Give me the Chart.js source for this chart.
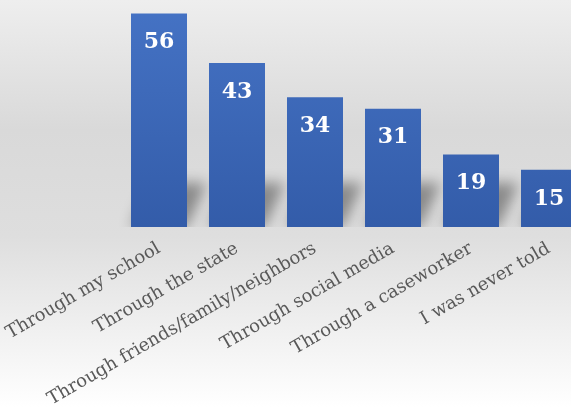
<!DOCTYPE html>
<html>
<head>
<meta charset="utf-8">
<script src="https://cdn.jsdelivr.net/npm/chart.js@4.4.1/dist/chart.umd.min.js"></script>
<style>
    html, body { margin: 0; padding: 0; width: 571px; height: 407px; overflow: hidden; background: #fff; }
    #wrap { width: 600px; height: 407px; position: relative; }
</style>
</head>
<body>
<div id="wrap"><canvas id="chart" width="600" height="407"></canvas></div>
<script>
const categories = [
    'Through my school',
    'Through the state',
    'Through friends/family/neighbors',
    'Through social media',
    'Through a caseworker',
    'I was never told'
];
const counts = [56, 43, 34, 31, 19, 15];

// grey page gradient behind everything
const backdrop = {
    id: 'backdrop',
    beforeDraw(chart) {
        const ctx = chart.ctx;
        const h = chart.height;
        const g = ctx.createLinearGradient(0, 0, 0, h);
        g.addColorStop(0, '#eeeeee');
        g.addColorStop(0.32, '#d9d9d9');
        g.addColorStop(0.58, '#dedede');
        g.addColorStop(1, '#ffffff');
        ctx.save();
        ctx.fillStyle = g;
        ctx.fillRect(0, 0, chart.width, h);
        ctx.restore();
    }
};

// soft shadow cast behind each bar
const barShadow = {
    id: 'barShadow',
    beforeDatasetsDraw(chart) {
        const ctx = chart.ctx;
        const meta = chart.getDatasetMeta(0);
        ctx.save();
        ctx.beginPath();
        ctx.rect(0, 0, chart.width, chart.chartArea.bottom);
        ctx.clip();
        ctx.filter = 'blur(7px)';
        ctx.fillStyle = 'rgba(0, 0, 0, 0.38)';
        meta.data.forEach(bar => {
            const left = bar.x - bar.width / 2;
            const right = bar.x + bar.width / 2;
            const base = bar.base;
            ctx.beginPath();
            ctx.moveTo(left, base);
            ctx.lineTo(right, base);
            ctx.lineTo(right + 20, base - 44);
            ctx.lineTo(left + 20, base - 44);
            ctx.closePath();
            ctx.fill();
        });
        ctx.restore();
    }
};

// white values inside the bars
const valueLabels = {
    id: 'valueLabels',
    afterDatasetsDraw(chart) {
        const ctx = chart.ctx;
        const meta = chart.getDatasetMeta(0);
        ctx.save();
        ctx.fillStyle = '#ffffff';
        ctx.font = 'bold 22px "DejaVu Serif"';
        ctx.textAlign = 'center';
        ctx.textBaseline = 'middle';
        meta.data.forEach((bar, i) => {
            ctx.fillText(counts[i], bar.x, bar.y + 29);
        });
        ctx.restore();
    }
};

const ctx = document.getElementById('chart').getContext('2d');
new Chart(ctx, {
    type: 'bar',
    data: {
        labels: categories,
        datasets: [{
            data: counts,
            backgroundColor: (c) => {
                const area = c.chart.chartArea;
                if (!area) return '#4472c4';
                const g = c.chart.ctx.createLinearGradient(0, area.top, 0, area.bottom);
                g.addColorStop(0, '#4573c5');
                g.addColorStop(1, '#335ca9');
                return g;
            },
            borderWidth: 0,
            categoryPercentage: 1,
            barPercentage: 0.718
        }]
    },
    options: {
        responsive: false,
        animation: false,
        devicePixelRatio: 1,
        layout: { padding: { left: 120, right: 12, top: 2, bottom: 0 } },
        plugins: {
            legend: { display: false },
            tooltip: { enabled: false }
        },
        scales: {
            y: {
                display: false,
                min: 0,
                max: 59
            },
            x: {
                grid: { display: false },
                border: { display: false },
                ticks: {
                    color: '#595959',
                    font: { family: '"DejaVu Serif"', size: 18 },
                    minRotation: 30,
                    maxRotation: 30,
                    autoSkip: false,
                    padding: 3
                },
                afterFit(scale) {
                    scale.height = 180;
                    scale.paddingLeft = 0;
                    scale.paddingRight = 0;
                }
            }
        }
    },
    plugins: [backdrop, barShadow, valueLabels]
});
</script>
</body>
</html>
